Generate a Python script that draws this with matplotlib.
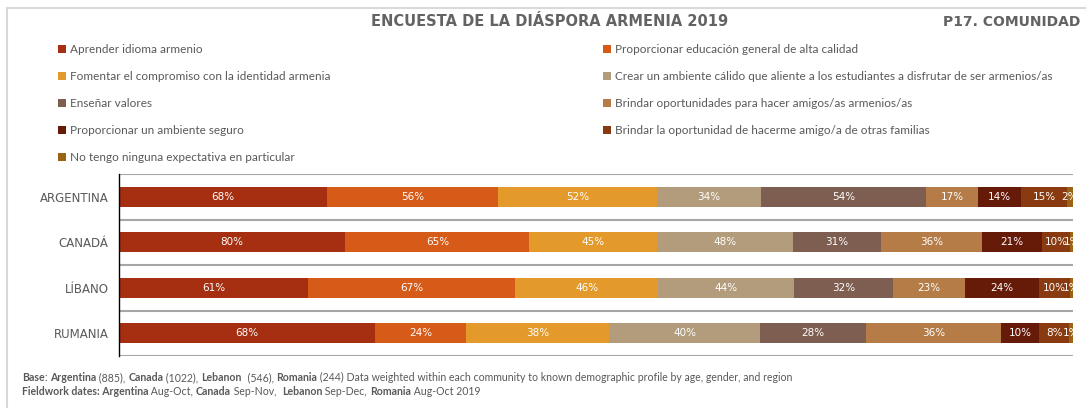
import matplotlib.pyplot as plt
import numpy as np
from matplotlib.patches import Rectangle

countries = ["ARGENTINA", "CANADÁ", "LÍBANO", "RUMANIA"]

options = [
    "Aprender idioma armenio",
    "Proporcionar educación general de alta calidad",
    "Fomentar el compromiso con la identidad armenia",
    "Crear un ambiente cálido que aliente a los estudiantes a disfrutar de ser armenios/as",
    "Enseñar valores",
    "Brindar oportunidades para hacer amigos/as armenios/as",
    "Proporcionar un ambiente seguro",
    "Brindar la oportunidad de hacerme amigo/a de otras familias",
    "No tengo ninguna expectativa en particular",
]

aprender = [68, 80, 61, 68]
educacion = [56, 65, 67, 24]
identidad = [52, 45, 46, 38]
ambiente_calido = [34, 48, 44, 40]
valores = [54, 31, 32, 28]
amigos_armenios = [17, 36, 23, 36]
ambiente_seguro = [14, 21, 24, 10]
amigos_familias = [15, 10, 10, 8]
ninguna = [2, 1, 1, 1]

series = [aprender, educacion, identidad, ambiente_calido, valores,
          amigos_armenios, ambiente_seguro, amigos_familias, ninguna]

colors = ["#A52F10", "#D65A18", "#E39A2A", "#B29C7C", "#7E5E50",
          "#B57C48", "#661A08", "#8A3A10", "#9B6414"]

GREY = "#595959"
W, H = 1086, 408

fig = plt.figure(figsize=(W / 100, H / 100), dpi=100)

# light frame round the slide
fig.patches.append(Rectangle((7 / W, -0.1), 1.2, 1.1 - 8 / H, transform=fig.transFigure,
                             fill=False, edgecolor="#D9D9D9", lw=1.5))

ax = fig.add_axes([119 / W, 1 - 356 / H, (1073 - 119) / W, (356 - 174) / H])

data = np.array(series, dtype=float)
shares = data / data.sum(axis=0)
y = np.arange(len(countries))
left = np.zeros(len(countries))
handles = []
for i, (vals, sh) in enumerate(zip(series, shares)):
    b = ax.barh(y, sh, left=left, height=0.44, color=colors[i], label=options[i])
    handles.append(b)
    for j in range(len(countries)):
        ax.text(left[j] + sh[j] / 2, y[j], f"{vals[j]}%", ha="center", va="center",
                color="white", fontsize=7.5, family="DejaVu Sans", clip_on=True)
    left += sh

ax.set_xlim(0, 1)
ax.set_ylim(len(countries) - 0.5, -0.5)
for yy in np.arange(-0.5, len(countries), 1.0):
    ax.axhline(yy, color="#A6A6A6", lw=1.5, zorder=0)
ax.set_yticks(y)
ax.set_yticklabels(countries, fontsize=8.5, color=GREY, family="DejaVu Sans")
ax.tick_params(axis="y", length=0, pad=7.5)
ax.set_xticks([])
for s in ["top", "right", "bottom"]:
    ax.spines[s].set_visible(False)
ax.spines["left"].set_color("black")
ax.spines["left"].set_linewidth(1.0)

# legend in two columns, drawn as two blocks
leg_kw = dict(frameon=False, loc="upper left", handlelength=0.7,
              handleheight=0.7, handletextpad=0.3, labelspacing=1.36, borderpad=0,
              borderaxespad=0, labelcolor=GREY, prop={"family": "Lato", "size": 8.5})
left_idx = [0, 2, 4, 6, 8]
right_idx = [1, 3, 5, 7]
fig.legend([handles[i] for i in left_idx], [options[i] for i in left_idx],
           bbox_to_anchor=(58 / W, 1 - 44 / H), **leg_kw)
fig.legend([handles[i] for i in right_idx], [options[i] for i in right_idx],
           bbox_to_anchor=(603 / W, 1 - 44 / H), **leg_kw)

fig.text(550 / W, 1 - 22 / H, "ENCUESTA DE LA DIÁSPORA ARMENIA 2019", ha="center", va="center",
         fontsize=10.5, color="#636363", fontweight="bold", family="DejaVu Sans")
fig.text(943 / W, 1 - 22 / H, "P17. COMUNIDAD", ha="left", va="center",
         fontsize=10, color="#636363", fontweight="bold", family="DejaVu Sans")

# footnotes with bold fragments
line1 = [("Base", True), (": ", False), ("Argentina", True), (" (885), ", False),
         ("Canada", True), (" (1022), ", False), ("Lebanon", True), ("  (546), ", False),
         ("Romania", True),
         (" (244) Data weighted within each community to known demographic profile by age, gender, and region", False)]
line2 = [("Fieldwork dates: Argentina", True), (" Aug-Oct, ", False), ("Canada", True),
         (" Sep-Nov,  ", False), ("Lebanon", True), (" Sep-Dec, ", False),
         ("Romania", True), (" Aug-Oct 2019", False)]


def place_line(x, y, parts):
    prev = None
    for txt, bold in parts:
        kw = dict(fontsize=7.6, color=GREY, family="Lato", va="baseline",
                  fontweight="bold" if bold else "normal")
        if prev is None:
            prev = ax.annotate(txt, xy=(x, y), xycoords="figure fraction", **kw)
        else:
            prev = ax.annotate(txt, xy=(1, y), xycoords=(prev, "figure fraction"), **kw)
        prev.set_annotation_clip(False)


place_line(22 / W, 1 - 381 / H, line1)
place_line(22 / W, 1 - 395 / H, line2)

fig.savefig("out.png", dpi=100)
